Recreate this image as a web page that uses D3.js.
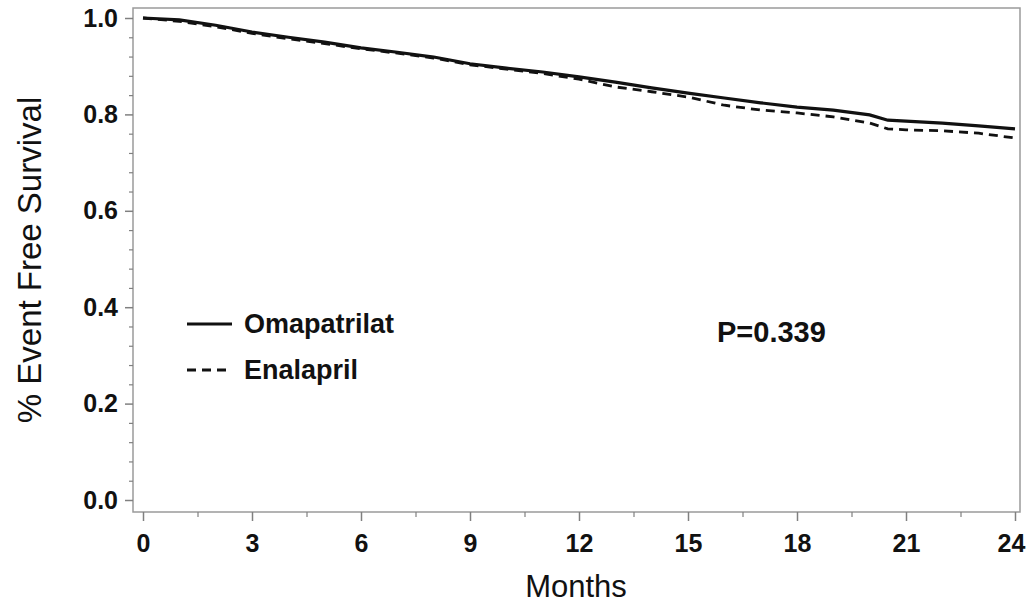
<!DOCTYPE html>
<html>
<head>
<meta charset="utf-8">
<script src="https://cdn.jsdelivr.net/npm/d3@7"></script>
<style>
  html, body { margin: 0; padding: 0; background: #fff; }
  svg { display: block; }
  text { font-family: "Liberation Sans", Arial, Helvetica, sans-serif; fill: #111; }
</style>
</head>
<body>
<svg id="chart" width="1027" height="606"></svg>
<script>
// ---- data ----
const months = [0, 1, 2, 3, 4, 5, 6, 7, 8, 9, 10, 11, 12, 13, 14, 15, 16, 17, 18, 19, 20, 20.5, 21, 22, 23, 24];
const omapatrilat = [1.000, 0.996, 0.985, 0.971, 0.960, 0.950, 0.938, 0.929, 0.919, 0.905, 0.896, 0.888, 0.878,
                     0.867, 0.855, 0.844, 0.834, 0.824, 0.815, 0.809, 0.799, 0.788, 0.786, 0.782, 0.776, 0.770];
const enalapril   = [1.000, 0.993, 0.982, 0.968, 0.957, 0.947, 0.936, 0.927, 0.917, 0.903, 0.894, 0.885, 0.873,
                     0.857, 0.847, 0.836, 0.819, 0.809, 0.803, 0.795, 0.782, 0.770, 0.768, 0.766, 0.761, 0.751];
const seriesNames = ["Omapatrilat", "Enalapril"];
const xTicks = [0, 3, 6, 9, 12, 15, 18, 21, 24];
const xMinor = [1.5, 4.5, 7.5, 10.5, 13.5, 16.5, 19.5, 22.5];
const yTicks = [0.0, 0.2, 0.4, 0.6, 0.8, 1.0];
const yMinor = [0.04, 0.08, 0.12, 0.16, 0.24, 0.28, 0.32, 0.36, 0.44, 0.48, 0.52, 0.56,
                0.64, 0.68, 0.72, 0.76, 0.84, 0.88, 0.92, 0.96];
const xTitle = "Months";
const yTitle = "% Event Free Survival";
const pValue = "P=0.339";

// ---- layout ----
const svg = d3.select("#chart");
const frame = { left: 133, right: 1020, top: 8, bottom: 512 };
const x = d3.scaleLinear().domain([0, 24]).range([143, 1015]);
const y = d3.scaleLinear().domain([0, 1]).range([500, 18]);
const axisColor = "#808080";

// frame
svg.append("rect")
  .attr("x", frame.left).attr("y", frame.top)
  .attr("width", frame.right - frame.left).attr("height", frame.bottom - frame.top)
  .attr("fill", "none").attr("stroke", "#9a9a9a").attr("stroke-width", 1.5);

// y axis
const gy = svg.append("g").attr("transform", `translate(${frame.left},0)`);
gy.call(d3.axisLeft(y).tickValues(yTicks).tickSize(8).tickPadding(7).tickFormat(d3.format(".1f")));
gy.select(".domain").remove();
gy.selectAll(".tick line").attr("stroke", axisColor).attr("stroke-width", 1.5);
gy.selectAll(".tick text").attr("font-size", 25).attr("font-weight", "bold")
  .attr("font-family", "Liberation Sans, Arial, sans-serif").attr("fill", "#111");
const gyMinor = svg.append("g").attr("transform", `translate(${frame.left},0)`);
gyMinor.call(d3.axisLeft(y).tickValues(yMinor).tickSize(4).tickFormat(""));
gyMinor.select(".domain").remove();
gyMinor.selectAll(".tick line").attr("stroke", axisColor).attr("stroke-width", 1.2);

// x axis
const gx = svg.append("g").attr("transform", `translate(0,${frame.bottom})`);
gx.call(d3.axisBottom(x).tickValues(xTicks).tickSize(9).tickPadding(13).tickFormat(d3.format("d")));
gx.select(".domain").remove();
gx.selectAll(".tick line").attr("stroke", axisColor).attr("stroke-width", 1.5);
gx.selectAll(".tick text").attr("font-size", 25).attr("font-weight", "bold")
  .attr("font-family", "Liberation Sans, Arial, sans-serif").attr("fill", "#111")
  .attr("dx", d => d === 24 ? -4 : 0);
const gxMinor = svg.append("g").attr("transform", `translate(0,${frame.bottom})`);
gxMinor.call(d3.axisBottom(x).tickValues(xMinor).tickSize(5).tickFormat(""));
gxMinor.select(".domain").remove();
gxMinor.selectAll(".tick line").attr("stroke", axisColor).attr("stroke-width", 1.2);

// axis titles
svg.append("text").attr("x", 576).attr("y", 597).attr("text-anchor", "middle")
  .attr("font-size", 31).text(xTitle);
svg.append("text").attr("transform", "translate(41,260) rotate(-90)").attr("text-anchor", "middle")
  .attr("font-size", 33).text(yTitle);

// curves
const line = d3.line().x(d => x(d[0])).y(d => y(d[1])).curve(d3.curveLinear);
const dataO = months.map((m, i) => [m, omapatrilat[i]]);
const dataE = months.map((m, i) => [m, enalapril[i]]);
svg.append("path").datum(dataE).attr("d", line)
  .attr("fill", "none").attr("stroke", "#111").attr("stroke-width", 2.8)
  .attr("stroke-dasharray", "9,6");
svg.append("path").datum(dataO).attr("d", line)
  .attr("fill", "none").attr("stroke", "#111").attr("stroke-width", 3.2);

// legend
const legend = svg.append("g");
const legendRows = [
  { name: seriesNames[0], y: 324, dash: null, w: 3.2 },
  { name: seriesNames[1], y: 370, dash: "9,6", w: 2.8 }
];
legendRows.forEach(r => {
  legend.append("line").attr("x1", 187).attr("x2", 232).attr("y1", r.y).attr("y2", r.y)
    .attr("stroke", "#111").attr("stroke-width", r.w).attr("stroke-dasharray", r.dash);
  legend.append("text").attr("x", 244).attr("y", r.y + 9).attr("font-size", 27)
    .attr("font-weight", "bold").text(r.name);
});

// p value
svg.append("text").attr("x", 717).attr("y", 342).attr("font-size", 29)
  .attr("font-weight", "bold").text(pValue);
</script>
</body>
</html>
